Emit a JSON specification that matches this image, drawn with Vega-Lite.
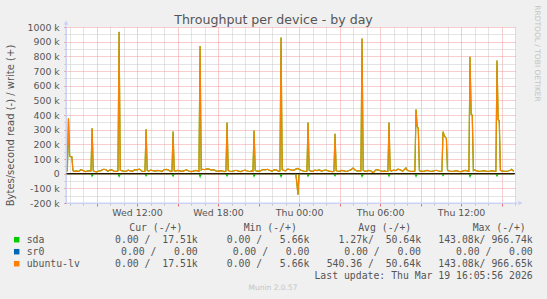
{
  "$schema": "https://vega.github.io/schema/vega-lite/v6.json",
  "width": 449,
  "height": 176,
  "autosize": "none",
  "padding": {"left": 66, "top": 27, "right": 32, "bottom": 96},
  "background": "#F0F0F0",
  "title": {"text": "Throughput per device - by day", "anchor": "middle", "frame": "group", "dx": -17, "dy": 28, "offset": -3, "baseline": "alphabetic", "font": "DejaVu Sans", "fontSize": 12.6, "fontWeight": "normal", "color": "#555555"},
  "config": {
    "view": {"fill": "#FFFFFF", "stroke": null},
    "axis": {"labelFont": "DejaVu Sans", "labelFontSize": 9.4, "labelColor": "#555555", "titleFont": "DejaVu Sans", "titleFontSize": 10, "titleColor": "#555555", "titleFontWeight": "normal", "gridOpacity": 1, "tickOpacity": 1, "domainOpacity": 1, "labelFlush": false, "labelOverlap": false, "gridWidth": 1, "tickWidth": 1, "domainWidth": 1}
  },
  "datasets": {
    "writes": [
      {"t":405,"sda":18,"ubuntu-lv":18},{"t":410,"sda":20,"ubuntu-lv":20},{"t":415,"sda":377,"ubuntu-lv":377},{"t":420,"sda":118,"ubuntu-lv":118},{"t":425,"sda":116,"ubuntu-lv":116},{"t":430,"sda":115,"ubuntu-lv":115},{"t":435,"sda":20,"ubuntu-lv":20},{"t":440,"sda":16,"ubuntu-lv":16},{"t":450,"sda":19,"ubuntu-lv":19},{"t":460,"sda":15,"ubuntu-lv":15},{"t":470,"sda":27,"ubuntu-lv":27},{"t":480,"sda":22,"ubuntu-lv":22},{"t":490,"sda":14,"ubuntu-lv":14},{"t":500,"sda":17,"ubuntu-lv":17},{"t":510,"sda":20,"ubuntu-lv":20},{"t":515,"sda":18,"ubuntu-lv":18},{"t":520,"sda":309,"ubuntu-lv":309},{"t":525,"sda":20,"ubuntu-lv":20},{"t":530,"sda":16,"ubuntu-lv":16},{"t":540,"sda":13,"ubuntu-lv":13},{"t":550,"sda":18,"ubuntu-lv":18},{"t":560,"sda":21,"ubuntu-lv":21},{"t":570,"sda":30,"ubuntu-lv":30},{"t":580,"sda":28,"ubuntu-lv":28},{"t":590,"sda":17,"ubuntu-lv":17},{"t":600,"sda":26,"ubuntu-lv":26},{"t":610,"sda":24,"ubuntu-lv":24},{"t":620,"sda":15,"ubuntu-lv":15},{"t":630,"sda":16,"ubuntu-lv":16},{"t":635,"sda":19,"ubuntu-lv":19},{"t":640,"sda":966.74,"ubuntu-lv":966.65},{"t":645,"sda":24,"ubuntu-lv":24},{"t":650,"sda":21,"ubuntu-lv":21},{"t":660,"sda":17,"ubuntu-lv":17},{"t":670,"sda":15,"ubuntu-lv":15},{"t":680,"sda":24,"ubuntu-lv":24},{"t":690,"sda":19,"ubuntu-lv":19},{"t":700,"sda":16,"ubuntu-lv":16},{"t":710,"sda":28,"ubuntu-lv":28},{"t":720,"sda":26,"ubuntu-lv":26},{"t":730,"sda":31,"ubuntu-lv":31},{"t":740,"sda":18,"ubuntu-lv":18},{"t":750,"sda":15,"ubuntu-lv":15},{"t":755,"sda":17,"ubuntu-lv":17},{"t":760,"sda":302,"ubuntu-lv":302},{"t":765,"sda":22,"ubuntu-lv":22},{"t":770,"sda":18,"ubuntu-lv":18},{"t":780,"sda":24,"ubuntu-lv":24},{"t":790,"sda":21,"ubuntu-lv":21},{"t":800,"sda":17,"ubuntu-lv":17},{"t":810,"sda":22,"ubuntu-lv":22},{"t":820,"sda":20,"ubuntu-lv":20},{"t":830,"sda":15,"ubuntu-lv":15},{"t":840,"sda":27,"ubuntu-lv":27},{"t":850,"sda":29,"ubuntu-lv":29},{"t":860,"sda":24,"ubuntu-lv":24},{"t":870,"sda":14,"ubuntu-lv":14},{"t":875,"sda":16,"ubuntu-lv":16},{"t":880,"sda":288,"ubuntu-lv":288},{"t":885,"sda":20,"ubuntu-lv":20},{"t":890,"sda":17,"ubuntu-lv":17},{"t":900,"sda":22,"ubuntu-lv":22},{"t":910,"sda":19,"ubuntu-lv":19},{"t":920,"sda":16,"ubuntu-lv":16},{"t":930,"sda":21,"ubuntu-lv":21},{"t":940,"sda":25,"ubuntu-lv":25},{"t":950,"sda":18,"ubuntu-lv":18},{"t":960,"sda":14,"ubuntu-lv":14},{"t":970,"sda":17,"ubuntu-lv":17},{"t":980,"sda":22,"ubuntu-lv":22},{"t":990,"sda":19,"ubuntu-lv":19},{"t":995,"sda":16,"ubuntu-lv":16},{"t":1000,"sda":870,"ubuntu-lv":870},{"t":1005,"sda":25,"ubuntu-lv":25},{"t":1010,"sda":30,"ubuntu-lv":30},{"t":1020,"sda":27,"ubuntu-lv":27},{"t":1030,"sda":33,"ubuntu-lv":33},{"t":1040,"sda":31,"ubuntu-lv":31},{"t":1050,"sda":24,"ubuntu-lv":24},{"t":1060,"sda":28,"ubuntu-lv":28},{"t":1070,"sda":19,"ubuntu-lv":19},{"t":1080,"sda":16,"ubuntu-lv":16},{"t":1090,"sda":21,"ubuntu-lv":21},{"t":1100,"sda":18,"ubuntu-lv":18},{"t":1110,"sda":14,"ubuntu-lv":14},{"t":1115,"sda":17,"ubuntu-lv":17},{"t":1120,"sda":348,"ubuntu-lv":348},{"t":1125,"sda":21,"ubuntu-lv":21},{"t":1130,"sda":18,"ubuntu-lv":18},{"t":1140,"sda":15,"ubuntu-lv":15},{"t":1150,"sda":19,"ubuntu-lv":19},{"t":1160,"sda":23,"ubuntu-lv":23},{"t":1170,"sda":17,"ubuntu-lv":17},{"t":1180,"sda":14,"ubuntu-lv":14},{"t":1190,"sda":20,"ubuntu-lv":20},{"t":1200,"sda":24,"ubuntu-lv":24},{"t":1210,"sda":18,"ubuntu-lv":18},{"t":1220,"sda":15,"ubuntu-lv":15},{"t":1230,"sda":19,"ubuntu-lv":19},{"t":1235,"sda":16,"ubuntu-lv":16},{"t":1240,"sda":295,"ubuntu-lv":295},{"t":1245,"sda":22,"ubuntu-lv":22},{"t":1250,"sda":19,"ubuntu-lv":19},{"t":1260,"sda":16,"ubuntu-lv":16},{"t":1270,"sda":21,"ubuntu-lv":21},{"t":1280,"sda":28,"ubuntu-lv":28},{"t":1290,"sda":26,"ubuntu-lv":26},{"t":1300,"sda":30,"ubuntu-lv":30},{"t":1310,"sda":22,"ubuntu-lv":22},{"t":1320,"sda":17,"ubuntu-lv":17},{"t":1330,"sda":27,"ubuntu-lv":27},{"t":1340,"sda":24,"ubuntu-lv":24},{"t":1350,"sda":16,"ubuntu-lv":16},{"t":1355,"sda":18,"ubuntu-lv":18},{"t":1360,"sda":929,"ubuntu-lv":929},{"t":1365,"sda":27,"ubuntu-lv":27},{"t":1370,"sda":24,"ubuntu-lv":24},{"t":1380,"sda":20,"ubuntu-lv":20},{"t":1390,"sda":31,"ubuntu-lv":31},{"t":1400,"sda":28,"ubuntu-lv":28},{"t":1410,"sda":22,"ubuntu-lv":22},{"t":1420,"sda":26,"ubuntu-lv":26},{"t":1430,"sda":34,"ubuntu-lv":34},{"t":1435,"sda":36,"ubuntu-lv":36},{"t":1440,"sda":30,"ubuntu-lv":30},{"t":1450,"sda":22,"ubuntu-lv":22},{"t":1460,"sda":18,"ubuntu-lv":18},{"t":1470,"sda":15,"ubuntu-lv":15},{"t":1475,"sda":17,"ubuntu-lv":17},{"t":1480,"sda":348,"ubuntu-lv":348},{"t":1485,"sda":23,"ubuntu-lv":23},{"t":1490,"sda":19,"ubuntu-lv":19},{"t":1500,"sda":16,"ubuntu-lv":16},{"t":1510,"sda":24,"ubuntu-lv":24},{"t":1520,"sda":21,"ubuntu-lv":21},{"t":1530,"sda":26,"ubuntu-lv":26},{"t":1540,"sda":18,"ubuntu-lv":18},{"t":1550,"sda":22,"ubuntu-lv":22},{"t":1560,"sda":25,"ubuntu-lv":25},{"t":1570,"sda":19,"ubuntu-lv":19},{"t":1580,"sda":15,"ubuntu-lv":15},{"t":1590,"sda":14,"ubuntu-lv":14},{"t":1595,"sda":16,"ubuntu-lv":16},{"t":1600,"sda":272,"ubuntu-lv":272},{"t":1605,"sda":21,"ubuntu-lv":21},{"t":1610,"sda":18,"ubuntu-lv":18},{"t":1620,"sda":16,"ubuntu-lv":16},{"t":1630,"sda":22,"ubuntu-lv":22},{"t":1640,"sda":19,"ubuntu-lv":19},{"t":1650,"sda":15,"ubuntu-lv":15},{"t":1660,"sda":20,"ubuntu-lv":20},{"t":1670,"sda":26,"ubuntu-lv":26},{"t":1680,"sda":39,"ubuntu-lv":39},{"t":1690,"sda":24,"ubuntu-lv":24},{"t":1700,"sda":17,"ubuntu-lv":17},{"t":1710,"sda":20,"ubuntu-lv":20},{"t":1715,"sda":18,"ubuntu-lv":18},{"t":1720,"sda":922,"ubuntu-lv":922},{"t":1725,"sda":23,"ubuntu-lv":23},{"t":1730,"sda":19,"ubuntu-lv":19},{"t":1740,"sda":16,"ubuntu-lv":16},{"t":1750,"sda":22,"ubuntu-lv":22},{"t":1760,"sda":18,"ubuntu-lv":18},{"t":1770,"sda":5.66,"ubuntu-lv":5.66},{"t":1780,"sda":25,"ubuntu-lv":25},{"t":1790,"sda":27,"ubuntu-lv":27},{"t":1800,"sda":20,"ubuntu-lv":20},{"t":1810,"sda":16,"ubuntu-lv":16},{"t":1820,"sda":19,"ubuntu-lv":19},{"t":1830,"sda":15,"ubuntu-lv":15},{"t":1835,"sda":17,"ubuntu-lv":17},{"t":1840,"sda":348,"ubuntu-lv":348},{"t":1845,"sda":22,"ubuntu-lv":22},{"t":1850,"sda":18,"ubuntu-lv":18},{"t":1860,"sda":24,"ubuntu-lv":24},{"t":1870,"sda":21,"ubuntu-lv":21},{"t":1880,"sda":30,"ubuntu-lv":30},{"t":1890,"sda":26,"ubuntu-lv":26},{"t":1900,"sda":17,"ubuntu-lv":17},{"t":1910,"sda":30,"ubuntu-lv":30},{"t":1915,"sda":40,"ubuntu-lv":40},{"t":1920,"sda":24,"ubuntu-lv":24},{"t":1930,"sda":18,"ubuntu-lv":18},{"t":1940,"sda":15,"ubuntu-lv":15},{"t":1950,"sda":16,"ubuntu-lv":16},{"t":1955,"sda":18,"ubuntu-lv":18},{"t":1960,"sda":438,"ubuntu-lv":438},{"t":1965,"sda":322,"ubuntu-lv":322},{"t":1970,"sda":310,"ubuntu-lv":310},{"t":1975,"sda":21,"ubuntu-lv":21},{"t":1980,"sda":17,"ubuntu-lv":17},{"t":1990,"sda":15,"ubuntu-lv":15},{"t":2000,"sda":19,"ubuntu-lv":19},{"t":2010,"sda":22,"ubuntu-lv":22},{"t":2020,"sda":18,"ubuntu-lv":18},{"t":2030,"sda":16,"ubuntu-lv":16},{"t":2040,"sda":20,"ubuntu-lv":20},{"t":2050,"sda":23,"ubuntu-lv":23},{"t":2060,"sda":18,"ubuntu-lv":18},{"t":2070,"sda":15,"ubuntu-lv":15},{"t":2075,"sda":16,"ubuntu-lv":16},{"t":2080,"sda":286,"ubuntu-lv":286},{"t":2085,"sda":262,"ubuntu-lv":262},{"t":2090,"sda":250,"ubuntu-lv":250},{"t":2095,"sda":240,"ubuntu-lv":240},{"t":2100,"sda":22,"ubuntu-lv":22},{"t":2110,"sda":18,"ubuntu-lv":18},{"t":2120,"sda":15,"ubuntu-lv":15},{"t":2130,"sda":17,"ubuntu-lv":17},{"t":2140,"sda":20,"ubuntu-lv":20},{"t":2150,"sda":16,"ubuntu-lv":16},{"t":2160,"sda":14,"ubuntu-lv":14},{"t":2170,"sda":19,"ubuntu-lv":19},{"t":2180,"sda":22,"ubuntu-lv":22},{"t":2190,"sda":17,"ubuntu-lv":17},{"t":2195,"sda":16,"ubuntu-lv":16},{"t":2200,"sda":797,"ubuntu-lv":797},{"t":2205,"sda":404,"ubuntu-lv":404},{"t":2210,"sda":400,"ubuntu-lv":400},{"t":2215,"sda":21,"ubuntu-lv":21},{"t":2220,"sda":26,"ubuntu-lv":26},{"t":2230,"sda":19,"ubuntu-lv":19},{"t":2240,"sda":16,"ubuntu-lv":16},{"t":2250,"sda":18,"ubuntu-lv":18},{"t":2260,"sda":21,"ubuntu-lv":21},{"t":2270,"sda":17,"ubuntu-lv":17},{"t":2280,"sda":15,"ubuntu-lv":15},{"t":2290,"sda":18,"ubuntu-lv":18},{"t":2300,"sda":20,"ubuntu-lv":20},{"t":2310,"sda":16,"ubuntu-lv":16},{"t":2315,"sda":17,"ubuntu-lv":17},{"t":2320,"sda":772,"ubuntu-lv":772},{"t":2325,"sda":368,"ubuntu-lv":368},{"t":2330,"sda":362,"ubuntu-lv":362},{"t":2335,"sda":22,"ubuntu-lv":22},{"t":2340,"sda":19,"ubuntu-lv":19},{"t":2350,"sda":17,"ubuntu-lv":17},{"t":2360,"sda":16,"ubuntu-lv":16},{"t":2370,"sda":18,"ubuntu-lv":18},{"t":2380,"sda":23,"ubuntu-lv":23},{"t":2385,"sda":30,"ubuntu-lv":30},{"t":2390,"sda":21,"ubuntu-lv":21},{"t":2395,"sda":17.51,"ubuntu-lv":17.51}
    ],
    "reads": [
      {"t":405,"sda":0,"sr0":0,"ubuntu-lv":0},
      {"t":515,"sda":0,"sr0":0,"ubuntu-lv":0},{"t":520,"sda":-16,"sr0":0,"ubuntu-lv":0},{"t":525,"sda":0,"sr0":0,"ubuntu-lv":0},
      {"t":635,"sda":0,"sr0":0,"ubuntu-lv":0},{"t":640,"sda":-19,"sr0":0,"ubuntu-lv":0},{"t":645,"sda":0,"sr0":0,"ubuntu-lv":0},
      {"t":755,"sda":0,"sr0":0,"ubuntu-lv":0},{"t":760,"sda":-14,"sr0":0,"ubuntu-lv":0},{"t":765,"sda":0,"sr0":0,"ubuntu-lv":0},
      {"t":875,"sda":0,"sr0":0,"ubuntu-lv":0},{"t":880,"sda":-17,"sr0":0,"ubuntu-lv":0},{"t":885,"sda":0,"sr0":0,"ubuntu-lv":0},
      {"t":995,"sda":0,"sr0":0,"ubuntu-lv":0},{"t":1000,"sda":-21,"sr0":0,"ubuntu-lv":0},{"t":1005,"sda":0,"sr0":0,"ubuntu-lv":0},
      {"t":1115,"sda":0,"sr0":0,"ubuntu-lv":0},{"t":1120,"sda":-15,"sr0":0,"ubuntu-lv":0},{"t":1125,"sda":0,"sr0":0,"ubuntu-lv":0},
      {"t":1235,"sda":0,"sr0":0,"ubuntu-lv":0},{"t":1240,"sda":-18,"sr0":0,"ubuntu-lv":0},{"t":1245,"sda":0,"sr0":0,"ubuntu-lv":0},
      {"t":1355,"sda":0,"sr0":0,"ubuntu-lv":0},{"t":1360,"sda":-20,"sr0":0,"ubuntu-lv":0},{"t":1365,"sda":0,"sr0":0,"ubuntu-lv":0},
      {"t":1425,"sda":0,"sr0":0,"ubuntu-lv":0},{"t":1430,"sda":-58,"sr0":0,"ubuntu-lv":-58},{"t":1435,"sda":-143.08,"sr0":0,"ubuntu-lv":-143.08},{"t":1440,"sda":0,"sr0":0,"ubuntu-lv":0},
      {"t":1475,"sda":0,"sr0":0,"ubuntu-lv":0},{"t":1480,"sda":-16,"sr0":0,"ubuntu-lv":0},{"t":1485,"sda":0,"sr0":0,"ubuntu-lv":0},
      {"t":1595,"sda":0,"sr0":0,"ubuntu-lv":0},{"t":1600,"sda":-14,"sr0":0,"ubuntu-lv":0},{"t":1605,"sda":0,"sr0":0,"ubuntu-lv":0},
      {"t":1715,"sda":0,"sr0":0,"ubuntu-lv":0},{"t":1720,"sda":-19,"sr0":0,"ubuntu-lv":0},{"t":1725,"sda":0,"sr0":0,"ubuntu-lv":0},
      {"t":1835,"sda":0,"sr0":0,"ubuntu-lv":0},{"t":1840,"sda":-17,"sr0":0,"ubuntu-lv":0},{"t":1845,"sda":0,"sr0":0,"ubuntu-lv":0},
      {"t":1955,"sda":0,"sr0":0,"ubuntu-lv":0},{"t":1960,"sda":-18,"sr0":0,"ubuntu-lv":0},{"t":1965,"sda":0,"sr0":0,"ubuntu-lv":0},
      {"t":2075,"sda":0,"sr0":0,"ubuntu-lv":0},{"t":2080,"sda":-13,"sr0":0,"ubuntu-lv":0},{"t":2085,"sda":0,"sr0":0,"ubuntu-lv":0},
      {"t":2195,"sda":0,"sr0":0,"ubuntu-lv":0},{"t":2200,"sda":-20,"sr0":0,"ubuntu-lv":0},{"t":2205,"sda":0,"sr0":0,"ubuntu-lv":0},
      {"t":2315,"sda":0,"sr0":0,"ubuntu-lv":0},{"t":2320,"sda":-15,"sr0":0,"ubuntu-lv":0},{"t":2325,"sda":0,"sr0":0,"ubuntu-lv":0},
      {"t":2395,"sda":0,"sr0":0,"ubuntu-lv":0}
    ],
    "zero": [{"v": 0}],
    "axisends": [{"t0": 404, "t1": 2425, "v0": -200, "v1": 1030}],
    "header": [
      {"row":"hdr","col":"cur","txt":"Cur (-/+)"},{"row":"hdr","col":"min","txt":"Min (-/+)"},{"row":"hdr","col":"avg","txt":"Avg (-/+)"},{"row":"hdr","col":"max","txt":"Max (-/+)"}
    ],
    "devices": [
      {"row":"sda","device":"sda"},{"row":"sr0","device":"sr0"},{"row":"ubuntu-lv","device":"ubuntu-lv"}
    ],
    "cells": [
      {"row":"sda","col":"cur","txt":"0.00 /\u00a0\u00a017.51k"},{"row":"sda","col":"min","txt":"0.00 /\u00a0\u00a0\u00a05.66k"},{"row":"sda","col":"avg","txt":"1.27k/\u00a0\u00a050.64k"},{"row":"sda","col":"max","txt":"143.08k/\u00a0966.74k"},
      {"row":"sr0","col":"cur","txt":"0.00 /\u00a0\u00a0\u00a00.00\u00a0"},{"row":"sr0","col":"min","txt":"0.00 /\u00a0\u00a0\u00a00.00\u00a0"},{"row":"sr0","col":"avg","txt":"0.00 /\u00a0\u00a0\u00a00.00\u00a0"},{"row":"sr0","col":"max","txt":"0.00 /\u00a0\u00a0\u00a00.00\u00a0"},
      {"row":"ubuntu-lv","col":"cur","txt":"0.00 /\u00a0\u00a017.51k"},{"row":"ubuntu-lv","col":"min","txt":"0.00 /\u00a0\u00a0\u00a05.66k"},{"row":"ubuntu-lv","col":"avg","txt":"540.36 /\u00a0\u00a050.64k"},{"row":"ubuntu-lv","col":"max","txt":"143.08k/\u00a0966.65k"},
      {"row":"upd","col":"max","txt":"Last update: Thu Mar 19 16:05:56 2026"}
    ],
    "munin": [{"row":"munin","txt":"Munin 2.0.57"}],
    "rrd": [{"id":"rrd","txt":"RRDTOOL / TOBI OETIKER"}]
  },
  "layer": [
    {
      "layer": [
        {
          "data": {"name": "writes"},
          "transform": [{"fold": ["sda", "ubuntu-lv"], "as": ["device", "value"]}],
          "mark": {"type": "line", "strokeWidth": 1.2},
          "encoding": {
            "x": {"field": "t", "type": "quantitative", "scale": {"domain": [404, 2400], "nice": false, "zero": false},
              "axis": {"orient": "bottom", "values": [420,480,600,660,780,840,960,1020,1140,1200,1320,1380,1500,1560,1680,1740,1860,1920,2040,2100,2220,2280,2400], "labels": false, "domain": false, "ticks": true, "tickSize": 2, "tickColor": "#BBBBBB", "grid": true, "gridColor": "#C8C8C8", "gridDash": [1, 1], "title": null}},
            "y": {"field": "value", "type": "quantitative", "scale": {"domain": [-200, 1000], "nice": false, "zero": false},
              "axis": {"orient": "left", "values": [-150,-50,50,150,250,350,450,550,650,750,850,950], "labels": false, "domain": false, "ticks": true, "tickSize": 2, "tickColor": "#BBBBBB", "grid": true, "gridColor": "#C8C8C8", "gridDash": [1, 1], "title": null}},
            "color": {"field": "device", "type": "nominal", "scale": {"domain": ["sda", "sr0", "ubuntu-lv"], "range": ["#00CC00", "#0066B3", "#FF8000"]}, "legend": null}
          }
        },
        {
          "data": {"name": "reads"},
          "transform": [{"fold": ["sda", "sr0", "ubuntu-lv"], "as": ["device", "value"]}],
          "mark": {"type": "line", "strokeWidth": 1.2},
          "encoding": {
            "x": {"field": "t", "type": "quantitative", "scale": {"domain": [404, 2400], "nice": false, "zero": false},
              "axis": {"orient": "bottom", "values": [540,720,900,1080,1260,1440,1620,1800,1980,2160,2340], "labelExpr": "(datum.value % 360 != 0) ? '' : ((datum.value < 1440 ? 'Wed ' : 'Thu ') + (((datum.value / 60) % 24) < 10 ? '0' : '') + ((datum.value / 60) % 24) + ':00')", "grid": true, "gridColor": "#EE9A9A", "gridDash": [1, 1], "ticks": true, "tickColor": "#E87070", "tickSize": 3, "domain": true, "domainColor": "#CBD2F5", "labelPadding": 2, "title": null}},
            "y": {"field": "value", "type": "quantitative", "scale": {"domain": [-200, 1000], "nice": false, "zero": false},
              "axis": {"orient": "left", "values": [-200,-100,0,100,200,300,400,500,600,700,800,900,1000], "labelExpr": "datum.value == 0 ? '0' : datum.value + ' k'", "grid": true, "gridColor": "#EE9A9A", "gridDash": [1, 1], "ticks": true, "tickColor": "#E87070", "tickSize": 2, "labelPadding": 4.7, "domain": true, "domainColor": "#CBD2F5", "title": "Bytes/second read (-) / write (+)", "titleX": -55.5, "titleY": 98, "titleAngle": -90, "titleAlign": "center", "titleBaseline": "middle"}},
            "color": {"field": "device", "type": "nominal", "scale": {"domain": ["sda", "sr0", "ubuntu-lv"], "range": ["#00CC00", "#0066B3", "#FF8000"]}, "legend": null}
          }
        },
        {
          "data": {"name": "zero"},
          "mark": {"type": "rule", "color": "#000000", "strokeWidth": 1},
          "encoding": {
            "y": {"field": "v", "type": "quantitative", "scale": {"domain": [-200, 1000], "nice": false, "zero": false}, "axis": null}
          }
        },
        {
          "data": {"name": "axisends"},
          "mark": {"type": "rule", "color": "#CBD2F5", "strokeWidth": 1},
          "encoding": {
            "x": {"field": "t0", "type": "quantitative", "scale": {"domain": [404, 2400], "nice": false, "zero": false}, "axis": null},
            "y": {"field": "v0", "type": "quantitative", "scale": {"domain": [-200, 1000], "nice": false, "zero": false}, "axis": null},
            "y2": {"field": "v1"}
          }
        },
        {
          "data": {"name": "axisends"},
          "mark": {"type": "rule", "color": "#CBD2F5", "strokeWidth": 1},
          "encoding": {
            "x": {"field": "t0", "type": "quantitative", "scale": {"domain": [404, 2400], "nice": false, "zero": false}, "axis": null},
            "x2": {"field": "t1"},
            "y": {"field": "v0", "type": "quantitative", "scale": {"domain": [-200, 1000], "nice": false, "zero": false}, "axis": null}
          }
        },
        {
          "data": {"name": "axisends"},
          "mark": {"type": "point", "shape": "triangle-up", "filled": true, "size": 22, "color": "#CBD2F5", "opacity": 1},
          "encoding": {
            "x": {"field": "t0", "type": "quantitative", "scale": {"domain": [404, 2400], "nice": false, "zero": false}, "axis": null},
            "y": {"field": "v1", "type": "quantitative", "scale": {"domain": [-200, 1000], "nice": false, "zero": false}, "axis": null}
          }
        },
        {
          "data": {"name": "axisends"},
          "mark": {"type": "point", "shape": "triangle-right", "filled": true, "size": 22, "color": "#CBD2F5", "opacity": 1},
          "encoding": {
            "x": {"field": "t1", "type": "quantitative", "scale": {"domain": [404, 2400], "nice": false, "zero": false}, "axis": null},
            "y": {"field": "v0", "type": "quantitative", "scale": {"domain": [-200, 1000], "nice": false, "zero": false}, "axis": null}
          }
        }
      ],
      "resolve": {"axis": {"x": "independent", "y": "independent"}}
    },
    {
      "data": {"name": "devices"},
      "mark": {"type": "square", "size": 30, "filled": true, "opacity": 1},
      "encoding": {
        "x": {"field": "row", "type": "nominal", "scale": {"type": "point", "domain": ["sda", "sr0", "ubuntu-lv"], "range": [-49.3, -49.3], "padding": 0}, "axis": null},
        "y": {"field": "row", "type": "nominal", "scale": {"type": "point", "domain": ["hdr", "sda", "sr0", "ubuntu-lv", "upd", "munin"], "range": [200.7, 260.7], "padding": 0}, "axis": null},
        "color": {"field": "device", "type": "nominal", "scale": {"domain": ["sda", "sr0", "ubuntu-lv"], "range": ["#00CC00", "#0066B3", "#FF8000"]}, "legend": null}
      }
    },
    {
      "data": {"name": "devices"},
      "mark": {"type": "text", "align": "left", "baseline": "middle", "font": "DejaVu Sans Mono", "fontSize": 9.8, "color": "#555555"},
      "encoding": {
        "x": {"field": "row", "type": "nominal", "scale": {"type": "point", "domain": ["sda", "sr0", "ubuntu-lv"], "range": [-39.3, -39.3], "padding": 0}, "axis": null},
        "y": {"field": "row", "type": "nominal", "scale": {"type": "point", "domain": ["hdr", "sda", "sr0", "ubuntu-lv", "upd", "munin"], "range": [200.7, 260.7], "padding": 0}, "axis": null},
        "text": {"field": "device"}
      }
    },
    {
      "data": {"name": "header"},
      "mark": {"type": "text", "align": "center", "baseline": "middle", "font": "DejaVu Sans Mono", "fontSize": 9.8, "color": "#555555"},
      "encoding": {
        "x": {"field": "col", "type": "nominal", "scale": {"type": "point", "domain": ["cur", "min", "avg", "max"], "range": [89.8, 433.2], "padding": 0}, "axis": null},
        "y": {"field": "row", "type": "nominal", "scale": {"type": "point", "domain": ["hdr", "sda", "sr0", "ubuntu-lv", "upd", "munin"], "range": [200.7, 260.7], "padding": 0}, "axis": null},
        "text": {"field": "txt"}
      }
    },
    {
      "data": {"name": "cells"},
      "mark": {"type": "text", "align": "right", "baseline": "middle", "font": "DejaVu Sans Mono", "fontSize": 9.8, "color": "#555555"},
      "encoding": {
        "x": {"field": "col", "type": "nominal", "scale": {"type": "point", "domain": ["cur", "min", "avg", "max"], "range": [131.7, 466.7], "padding": 0}, "axis": null},
        "y": {"field": "row", "type": "nominal", "scale": {"type": "point", "domain": ["hdr", "sda", "sr0", "ubuntu-lv", "upd", "munin"], "range": [200.7, 260.7], "padding": 0}, "axis": null},
        "text": {"field": "txt"}
      }
    },
    {
      "data": {"name": "munin"},
      "mark": {"type": "text", "align": "center", "baseline": "middle", "font": "DejaVu Sans", "fontSize": 7.5, "color": "#C4C4C4"},
      "encoding": {
        "x": {"field": "row", "type": "nominal", "scale": {"type": "point", "domain": ["munin"], "range": [207, 207], "padding": 0}, "axis": null},
        "y": {"field": "row", "type": "nominal", "scale": {"type": "point", "domain": ["hdr", "sda", "sr0", "ubuntu-lv", "upd", "munin"], "range": [200.7, 260.7], "padding": 0}, "axis": null},
        "text": {"field": "txt"}
      }
    },
    {
      "data": {"name": "rrd"},
      "mark": {"type": "text", "align": "center", "baseline": "middle", "angle": 90, "font": "DejaVu Sans", "fontSize": 7.5, "color": "#C4C4C4"},
      "encoding": {
        "x": {"field": "id", "type": "nominal", "scale": {"type": "point", "domain": ["rrd"], "range": [470.7, 470.7], "padding": 0}, "axis": null},
        "y": {"field": "id", "type": "nominal", "scale": {"type": "point", "domain": ["rrd"], "range": [26.5, 26.5], "padding": 0}, "axis": null},
        "text": {"field": "txt"}
      }
    }
  ],
  "resolve": {"scale": {"x": "independent", "y": "independent", "color": "shared"}}
}
